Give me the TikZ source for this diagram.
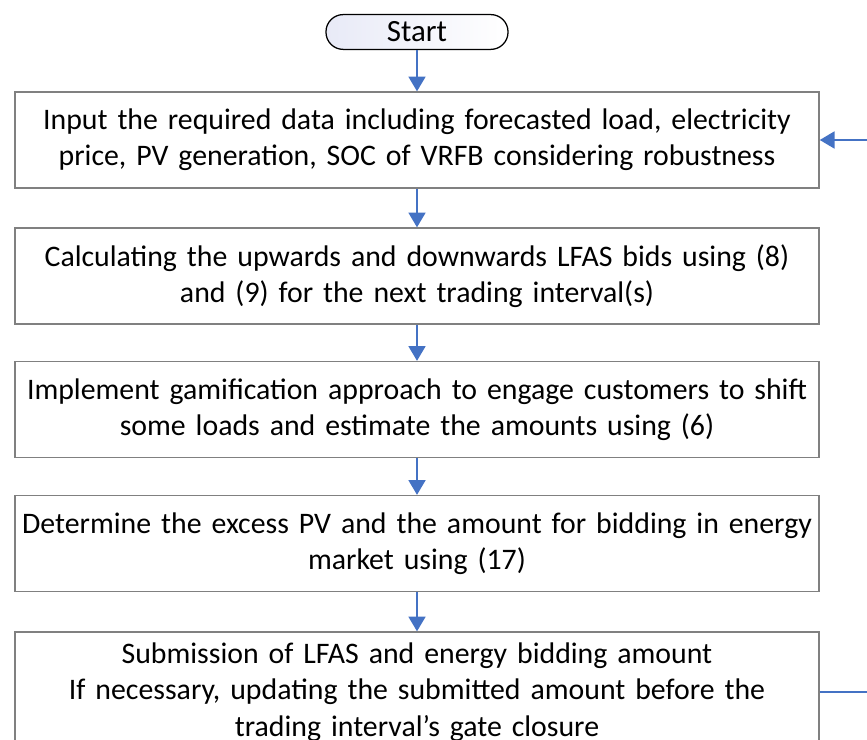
\documentclass[tikz,border=0pt]{standalone}
\usepackage{fontspec}
\setmainfont{Carlito}
\usetikzlibrary{arrows.meta}
\definecolor{flowblue}{RGB}{68,114,196}
\definecolor{boxgray}{RGB}{128,128,128}
\begin{document}
\begin{tikzpicture}[x=0.025cm,y=-0.025cm]

    \tikzset{
      stepbox/.style={
        draw=boxgray,
        line width=0.9pt,
        fill=white,
        inner ysep=0pt,
        inner xsep=-0.25cm,
        minimum width=20.1cm,
        minimum height=2.4cm,
        text width=20.6cm,
        align=center,
        font=\fontsize{21.2}{25.8}\selectfont,
      },
      term/.style={
        draw=black,
        line width=0.9pt,
        rounded corners=0.43cm,
        left color={rgb,255:red,232;green,234;blue,247},
        right color=white,
        minimum width=4.55cm,
        minimum height=0.87cm,
        inner sep=0pt,
        font=\fontsize{22}{24}\selectfont,
      },
      flow/.style={
        draw=flowblue,
        line width=1.6pt,
        -{Triangle[width=12pt,length=10.5pt]},
      },
      back/.style={
        draw=flowblue,
        line width=1.6pt,
      },
    }
    \useasboundingbox (0,0) rectangle (867,740);
    \clip (0,0) rectangle (867,740);
	\node[term] (start) at (417,32) {Start};
	\node[stepbox] (input) at (417,140) {Input the required data including forecasted load, electricity\\ price, PV generation, SOC of VRFB considering robustness};
	\node[stepbox] (bids) at (417,276) {Calculating the upwards and downwards LFAS bids using (8)\\ and (9) for the next trading interval(s)};
	\node[stepbox] (game) at (417,409.5) {Implement gamification approach to engage customers to shift\\ some loads and estimate the amounts using (6)};
	\node[stepbox] (excess) at (417,543.5) {Determine the excess PV and the amount for bidding in energy\\ market using (17)};
	\node[stepbox, minimum height=3cm] (submit) at (417,692) {Submission of LFAS and energy bidding amount\\ If necessary, updating the submitted amount before the\\ trading interval’s gate closure};
	\coordinate (loopin) at (875,140);
	\coordinate (loopout) at (875,692);

	\draw[flow] (start) -- (input);
	\draw[flow] (input) -- (bids);
	\draw[flow] (bids) -- (game);
	\draw[flow] (game) -- (excess);
	\draw[flow] (excess) -- (submit);
	\draw[flow] (loopin) -- (input.east);
	\draw[back] (submit.east) -- (loopout);

\end{tikzpicture}
\end{document}
